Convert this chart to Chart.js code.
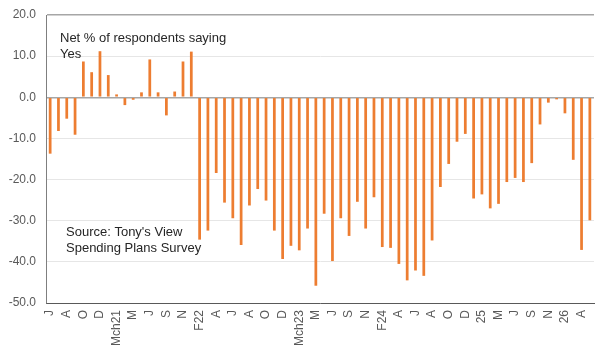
<!DOCTYPE html>
<html>
<head>
<meta charset="utf-8">
<script src="https://cdn.jsdelivr.net/npm/chart.js@4/dist/chart.umd.min.js"></script>
<style>
  html, body { margin: 0; padding: 0; background: #fff; }
  #wrap { width: 597px; height: 354px; }
</style>
</head>
<body>
<div id="wrap"><canvas id="chartSpend"></canvas></div>
<script>
// Monthly survey, no January reading. Only every other month is labelled.
const monthLabels = [
  "J", "", "A", "", "O", "", "D", "", "Mch21", "",
  "M", "", "J", "", "S", "", "N", "", "F22", "",
  "A", "", "J", "", "A", "", "O", "", "D", "",
  "Mch23", "", "M", "", "J", "", "S", "", "N", "",
  "F24", "", "A", "", "J", "", "A", "", "O", "",
  "D", "", "25", "", "M", "", "J", "", "S", "",
  "N", "", "26", "", "A", ""
];

const netYes = [
  -13.7, -8.2, -5.2, -9.1, 8.7, 6.1, 11.2, 5.4, 0.7, -1.9,
  -0.6, 1.2, 9.2, 1.2, -4.4, 1.4, 8.7, 11.1, -34.6, -32.4,
  -18.4, -25.6, -29.4, -35.9, -26.3, -22.3, -25.1, -32.4, -39.3, -36.1,
  -37.2, -31.9, -45.8, -28.3, -39.8, -29.4, -33.7, -25.4, -31.9, -24.3,
  -36.4, -36.6, -40.5, -44.5, -42.1, -43.4, -34.8, -21.8, -16.2, -10.8,
  -8.9, -24.6, -23.6, -27.0, -25.9, -20.6, -19.6, -20.6, -16.0, -6.6,
  -1.3, -0.5, -3.9, -15.2, -37.1, -29.9
];

const yTicks = [20, 10, 0, -10, -20, -30, -40, -50];

const titleLines  = ["Net % of respondents saying", "Yes"];
const sourceLines = ["Source: Tony's View", "Spending Plans Survey"];

// Colours
const ORANGE = "#ED7D31";
const TEXT   = "#595959";
const GRID   = "#e6e6e6";
const AXIS   = "#a6a6a6";

const FONT = "'Liberation Sans', Arial, sans-serif";

// ── Text notes inside the plot ────────────────────────────────────────
const notes = {
  id: "notes",
  afterDraw(chart) {
    const ctx = chart.ctx;
    ctx.save();
    ctx.font = "13px " + FONT;
    ctx.fillStyle = "#262626";
    ctx.textBaseline = "middle";
    ctx.textAlign = "left";
    titleLines.forEach((t, i) => ctx.fillText(t, 60, 38 + i * 16));
    sourceLines.forEach((t, i) => ctx.fillText(t, 66, 232 + i * 16));
    ctx.restore();
  }
};

new Chart(document.getElementById("chartSpend"), {
  type: "bar",
  data: {
    labels: monthLabels,
    datasets: [{
      label: "Net % saying Yes",
      data: netYes,
      backgroundColor: ORANGE,
      borderWidth: 0,
      barPercentage: 0.33,
      categoryPercentage: 1.0,
    }]
  },
  options: {
    responsive: true,
    maintainAspectRatio: false,
    animation: false,
    layout: { padding: { left: 0, right: 3, top: 15, bottom: 0 } },
    plugins: {
      legend: { display: false },
      tooltip: { enabled: false }
    },
    scales: {
      x: {
        offset: true,
        grid: { display: false, drawTicks: false },
        border: { color: "#595959", width: 1 },
        ticks: {
          autoSkip: false,
          minRotation: 90, maxRotation: 90,
          padding: 7,
          color: TEXT,
          font: { family: FONT, size: 12 }
        },
        afterFit: s => { s.height = 51; s.paddingLeft = 0; s.paddingRight = 0; }
      },
      y: {
        min: -50, max: 20,
        grid: {
          drawTicks: false,
          color: c => (c.tick && (c.tick.value === 0 || c.tick.value === 20)) ? AXIS : GRID,
          lineWidth: c => (c.tick && (c.tick.value === 0 || c.tick.value === 20)) ? 1.5 : 1
        },
        border: { color: "#7f7f7f", width: 1 },
        afterBuildTicks: s => { s.ticks = yTicks.map(v => ({ value: v })); },
        ticks: {
          padding: 10,
          color: TEXT,
          font: { family: FONT, size: 12 },
          callback: v => Number(v).toFixed(1)
        },
        afterFit: s => { s.width = 46; s.paddingTop = 0; s.paddingBottom = 0; }
      }
    }
  },
  plugins: [notes]
});
</script>
</body>
</html>
